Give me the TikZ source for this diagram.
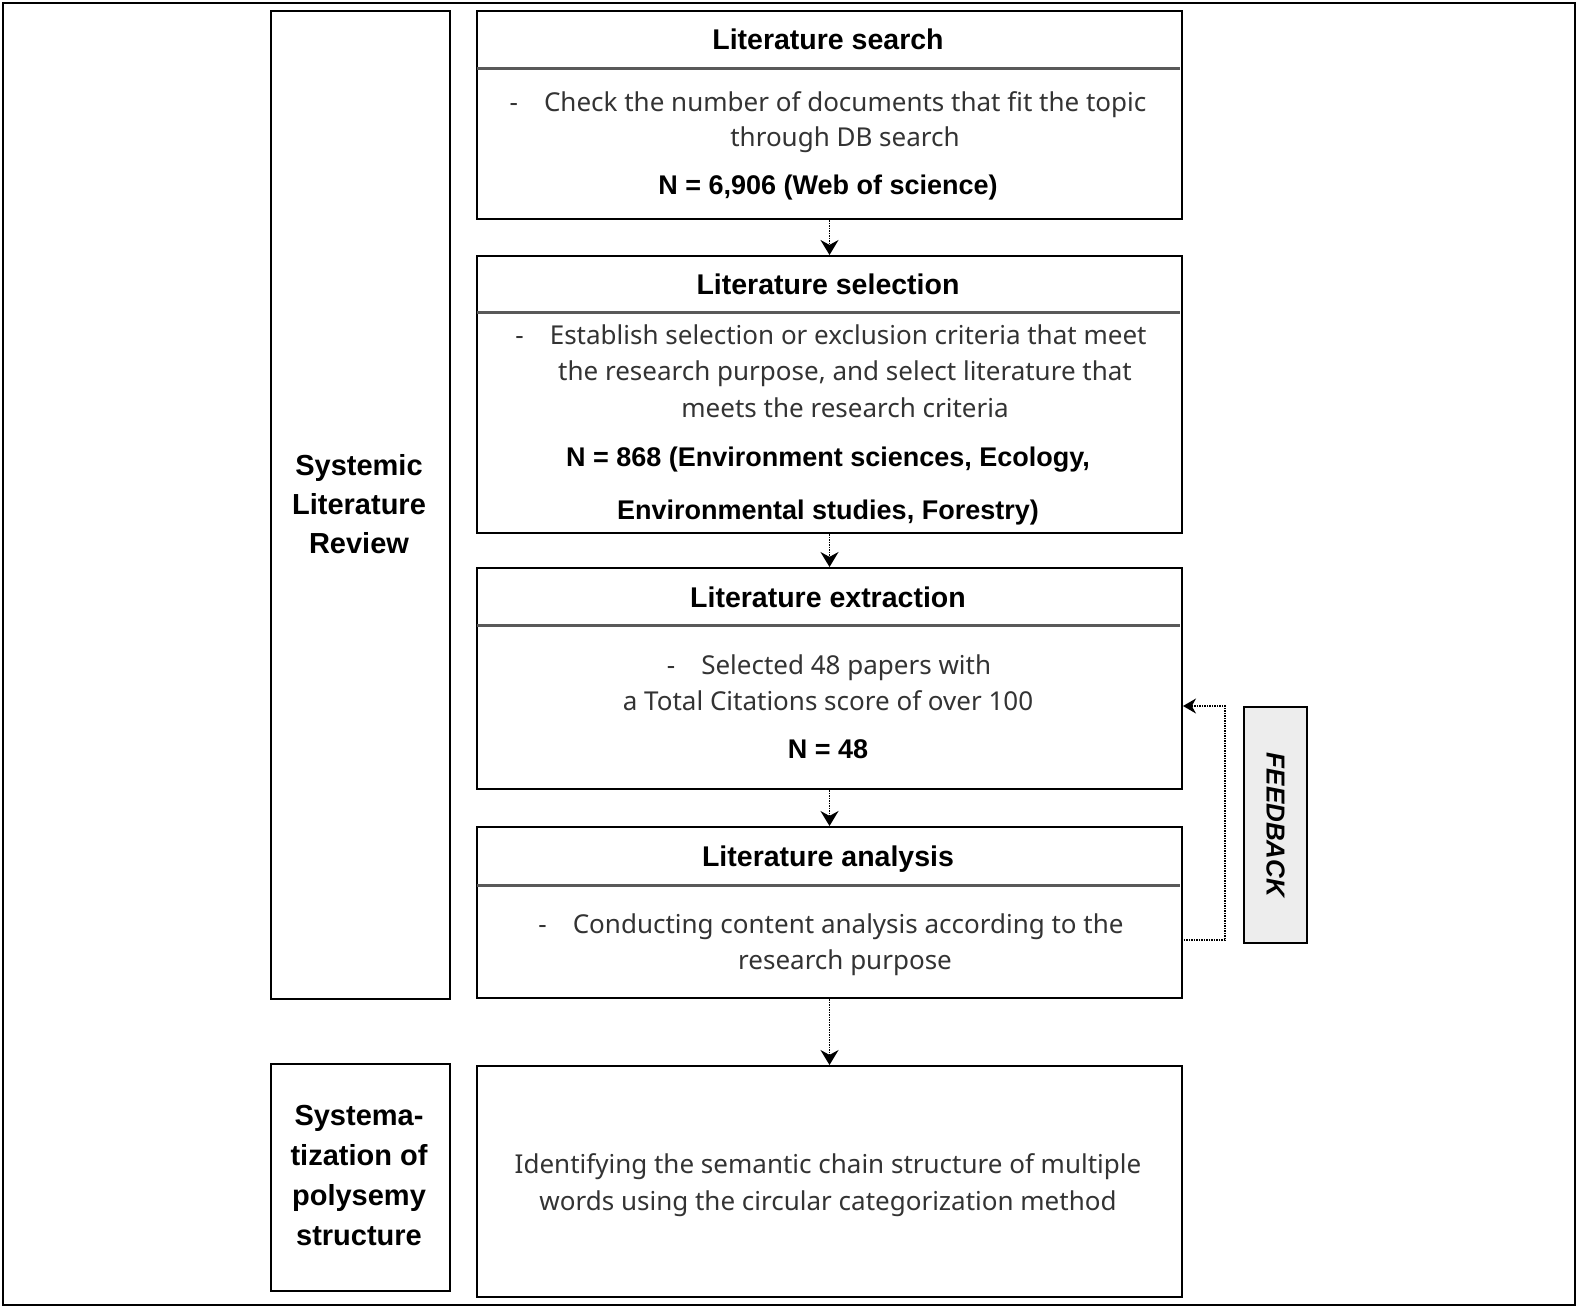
\documentclass[tikz,border=0pt]{standalone}
\usepackage{fontspec}
\setmainfont{Noto Sans}
\newfontfamily\hb{Liberation Sans}
\usetikzlibrary{arrows.meta}
\begin{document}
\begin{tikzpicture}[x=1pt,y=-1pt,
 box/.style={draw=black, line width=2pt, inner sep=0pt, anchor=north west},
 body/.style={font=\fontsize{26}{36}\selectfont, text=black!80, inner sep=0pt, anchor=base},
 hd/.style={font=\hb\bfseries\fontsize{27}{36}\selectfont, inner sep=0pt, anchor=base},
 title/.style={font=\hb\bfseries\fontsize{28.5}{36}\selectfont, inner sep=0pt, anchor=base},
 sepline/.style={line width=3pt, draw=black!65},
 conn/.style={densely dotted, line width=1.5pt, -{Stealth[length=15pt,width=18pt]}}]
\useasboundingbox (0,0) rectangle (1578,1308);
\draw[line width=2.5pt] (3,3) rectangle (1575,1305);
% left boxes
\node[box, minimum width=179pt, minimum height=988pt] (L1) at (270,10) {};
\node[box, minimum width=179pt, minimum height=227pt] (L2) at (270,1063) {};
\node[align=center, inner sep=0pt, font=\hb\bfseries\fontsize{29}{39}\selectfont] (L1t) at (359,504) {Systemic\\Literature\\Review};
\node[align=center, inner sep=0pt, font=\hb\bfseries\fontsize{29}{40}\selectfont] (L2t) at (359,1176) {Systema-\\tization of\\polysemy\\structure};
% main boxes
\node[box, minimum width=705pt, minimum height=208pt] (b1) at (476,10) {};
\node[box, minimum width=705pt, minimum height=277pt] (b2) at (476,255) {};
\node[box, minimum width=705pt, minimum height=221pt] (b3) at (476,567) {};
\node[box, minimum width=705pt, minimum height=171pt] (b4) at (476,826) {};
\node[box, minimum width=705pt, minimum height=231pt] (b5) at (476,1065) {};
\draw[sepline] (477,69) -- (1180,69);
\draw[sepline] (477,312) -- (1180,312);
\draw[sepline] (477,625) -- (1180,625);
\draw[sepline] (477,885) -- (1180,885);
% box 1
\node[title] (h1) at (828,50) {Literature search};
\node[body] (t1a) at (828,112) {-\quad Check the number of documents that fit the topic};
\node[body] (t1b) at (845,147) {through DB search};
\node[hd] (n1) at (828,194) {N = 6,906 (Web of science)};
% box 2
\node[title] (h2) at (828,294) {Literature selection};
\node[body] (t2a) at (831,344) {-\quad Establish selection or exclusion criteria that meet};
\node[body] (t2b) at (845,380) {the research purpose, and select literature that};
\node[body] (t2c) at (845,417) {meets the research criteria};
\node[hd] (n2a) at (828,466) {N = 868 (Environment sciences, Ecology,};
\node[hd] (n2b) at (828,519) {Environmental studies, Forestry)};
% box 3
\node[title] (h3) at (828,607) {Literature extraction};
\node[body] (t3a) at (829,674) {-\quad Selected 48 papers with};
\node[body] (t3b) at (828,710) {a Total Citations score of over 100};
\node[hd] (n3) at (828,758) {N = 48};
% box 4
\node[title] (h4) at (828,866) {Literature analysis};
\node[body] (t4a) at (831,933) {-\quad Conducting content analysis according to the};
\node[body] (t4b) at (845,969) {research purpose};
% box 5
\node[body] (t5a) at (828,1173) {Identifying the semantic chain structure of multiple};
\node[body] (t5b) at (828,1210) {words using the circular categorization method};
% feedback
\node[box, fill=black!7, minimum width=63pt, minimum height=236pt] (fb) at (1243,706) {};
\node[font=\hb\bfseries\itshape\fontsize{26}{30}\selectfont, rotate=-90, inner sep=0pt] (fbt) at (fb.center) {FEEDBACK};
% connectors
\draw[conn] (b1.south) -- (b2.north);
\draw[conn] (b2.south) -- (b3.north);
\draw[conn] (b3.south) -- (b4.north);
\draw[conn] (b4.south) -- (b5.north);
\coordinate (fs) at (1181,940);
\coordinate (fc) at (1225,706);
\draw[densely dotted, line width=1.5pt, -{Stealth[length=13pt,width=15pt]}] (fs) -- (fs -| fc) -- (fc) -- (b3.east |- fb.north);
\end{tikzpicture}
\end{document}
